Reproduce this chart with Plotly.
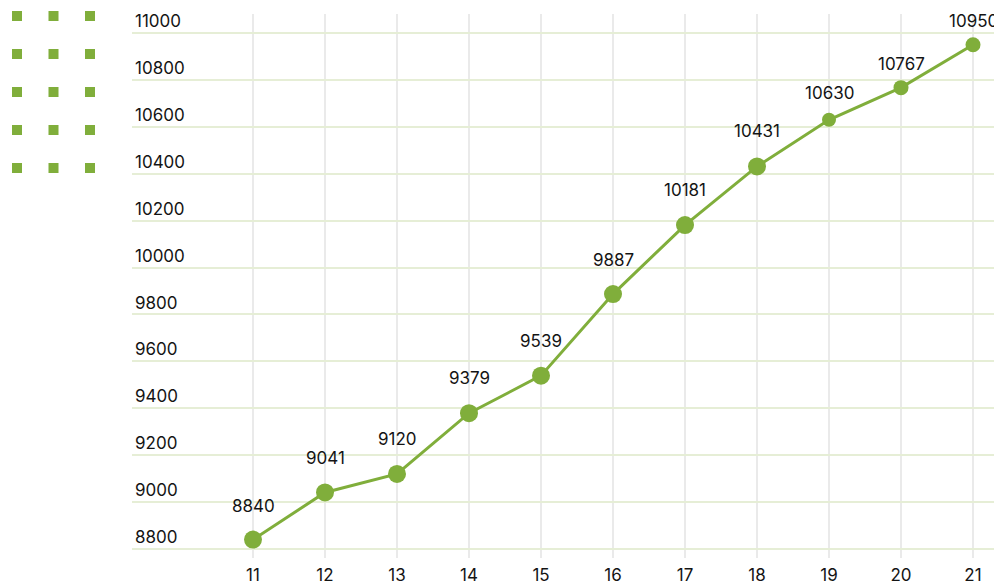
import plotly.graph_objects as go

x_vals = [11, 12, 13, 14, 15, 16, 17, 18, 19, 20, 21]
y_vals = [8840, 9041, 9120, 9379, 9539, 9887, 10181, 10431, 10630, 10767, 10950]
y_ticks = [8800, 9000, 9200, 9400, 9600, 9800, 10000, 10200, 10400, 10600, 10800, 11000]

# styling (per-point marker size and label lift as seen in the reference)
marker_sizes = [18, 18, 18, 18, 18, 18, 18, 18, 14, 15, 15]
label_lifts = [34, 34, 35, 35, 35, 34, 35, 35, 27, 24, 24]

GREEN = "#80ae3b"
TEXT = "#141414"
# the page adds an 8px body margin, so the figure is drawn 8px smaller
W, H = 994, 576
L = 124           # plot left edge (figure px)
PB = 550          # plot bottom (figure px)
PX_PER_UNIT = 0.2345

fig = go.Figure()

# vertical gridlines (stop slightly below the top of the figure)
for xv in x_vals:
    fig.add_shape(type="line", xref="x", yref="paper", x0=xv, x1=xv,
                  y0=0, y1=(PB - 6) / PB, layer="below",
                  line=dict(color="#e3e3e3", width=1.5))

fig.add_trace(go.Scatter(
    x=x_vals, y=y_vals, mode="lines+markers",
    line=dict(color=GREEN, width=3),
    marker=dict(color=GREEN, size=marker_sizes, opacity=1, line=dict(width=0)),
    hoverinfo="skip", showlegend=False,
))

for xv, yv, lift in zip(x_vals, y_vals, label_lifts):
    fig.add_annotation(x=xv, y=yv, text=str(yv), showarrow=False, yshift=lift,
                       font=dict(family="Inter", size=17, color=TEXT))

# decorative square dots (top-left)
dec_cols = [0, 1, 2]
dec_rows = [0, 1, 2, 3, 4]
dx, dy = [], []
for r in dec_rows:
    for c in dec_cols:
        dx.append(c)
        dy.append(r)
fig.add_trace(go.Scatter(
    x=dx, y=dy, mode="markers", xaxis="x2", yaxis="y2",
    marker=dict(symbol="square", size=10, color=GREEN, line=dict(width=0)),
    hoverinfo="skip", showlegend=False,
))

dom2 = 0.11
top_val = -8 / 38
left_val = -9 / 36.5

fig.update_layout(
    width=W, height=H,
    margin=dict(l=0, r=0, t=0, b=H - PB, autoexpand=False),
    paper_bgcolor="white", plot_bgcolor="white",
    font=dict(family="Inter", size=17, color=TEXT),
    xaxis=dict(
        domain=[L / W, 1],
        range=[11 - (253 - 132) / 72, 21 + (1002 - 973) / 72],
        tickvals=x_vals, ticktext=[str(v) for v in x_vals],
        showgrid=False, zeroline=False, showline=False, ticks="",
        ticklabelstandoff=5,
        tickfont=dict(size=17, color=TEXT),
    ),
    yaxis=dict(
        range=[8800 - 9 / PX_PER_UNIT, 11000 + 25 / PX_PER_UNIT],
        tickvals=y_ticks, ticktext=[str(v) for v in y_ticks],
        ticklabelposition="inside top",
        showgrid=True, gridcolor="#e6eed6", gridwidth=2,
        zeroline=False, showline=False, ticks="",
        tickfont=dict(size=17, color=TEXT),
    ),
    xaxis2=dict(domain=[0, dom2], anchor="y2", visible=False, fixedrange=True,
                range=[left_val, left_val + dom2 * W / 36.5]),
    yaxis2=dict(domain=[0, 1], anchor="x2", visible=False, fixedrange=True,
                range=[top_val + PB / 38, top_val]),
)

fig.write_html("out.html")
